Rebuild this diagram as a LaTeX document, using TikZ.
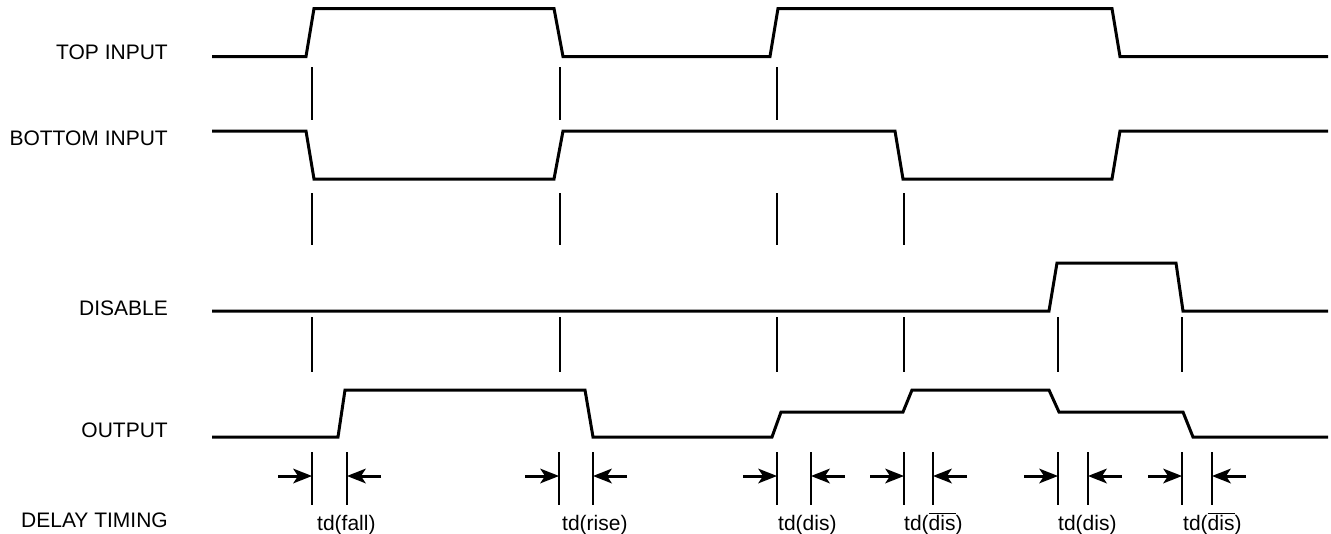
\documentclass[tikz,border=0pt]{standalone}
\usepackage{fontspec}
\setmainfont{Liberation Sans}
\tikzset{
  wave/.style={line width=3pt,line join=miter},
  tick/.style={line width=1.3pt},
  shaft/.style={line width=3pt},
  sig/.style={anchor=base east,inner sep=0pt,font=\fontsize{21}{25}\selectfont},
  tdl/.style={anchor=base west,inner sep=0pt,font=\fontsize{21}{25}\selectfont}}
\begin{document}
\begin{tikzpicture}[x=1pt,y=-1pt]
\useasboundingbox (0,0) rectangle (1331,533);
% signal names
\node[sig] (ltop) at (168,59) {TOP INPUT};
\node[sig] (lbot) at (168,145) {BOTTOM INPUT};
\node[sig] (ldis) at (168,315) {DISABLE};
\node[sig] (lout) at (168,437) {OUTPUT};
\node[sig] (ldel) at (168,527) {DELAY TIMING};
% waveforms
\draw[wave] (212,56.5) -- (306,56.5) -- (314,8.5) -- (554,8.5) -- (563,56.5) -- (770,56.5) -- (778,8.5) -- (1112,8.5) -- (1120,56.5) -- (1328,56.5);
\draw[wave] (212,131) -- (306,131) -- (314,179) -- (554,179) -- (563,131) -- (895,131) -- (903,179) -- (1112,179) -- (1120,131) -- (1328,131);
\draw[wave] (212,311) -- (1049,311) -- (1057,263) -- (1176,263) -- (1183,311) -- (1328,311);
\draw[wave] (212,437) -- (338,437) -- (345,390) -- (585,390) -- (593,437) -- (772,437) -- (781,412) -- (903,412) -- (912,390) -- (1049,390) -- (1059,412) -- (1183,412) -- (1193,437) -- (1328,437);
% alignment ticks
\foreach \x in {312,560,777} \draw[tick] (\x,67) -- (\x,120);
\foreach \x in {312,560,777,904} \draw[tick] (\x,193) -- (\x,245);
\foreach \x in {312,560,777,904,1058,1182} \draw[tick] (\x,317) -- (\x,372);
% delay timing markers
\foreach \a/\b/\n in {312/347/1,559/593/2,777/811/3,904/933/4,1058/1088/5,1182/1212/6}{
  \draw[tick] (\a,452) -- (\a,505);
  \draw[tick] (\b,452) -- (\b,505);
  \coordinate (la\n) at (\a-34,476);
  \coordinate (ta\n) at (\a,476);
  \coordinate (lb\n) at (\b+34,476);
  \coordinate (tb\n) at (\b,476);
  \draw[shaft] (la\n) -- ([xshift=-10pt]ta\n);
  \fill (ta\n) -- ++(-19,-7.5) -- ++(5,7.5) -- ++(-5,7.5) -- cycle;
  \draw[shaft] (lb\n) -- ([xshift=10pt]tb\n);
  \fill (tb\n) -- ++(19,-7.5) -- ++(-5,7.5) -- ++(5,7.5) -- cycle;
}
\node[tdl] (t1) at (317,530) {td(fall)};
\node[tdl] (t2) at (562,530) {td(rise)};
\node[tdl] (t3) at (778,530) {td(dis)};
\node[tdl] (t4) at (904,530) {td($\overline{\mbox{dis}}$)};
\node[tdl] (t5) at (1058,530) {td(dis)};
\node[tdl] (t6) at (1183,530) {td($\overline{\mbox{dis}}$)};
\end{tikzpicture}
\end{document}
